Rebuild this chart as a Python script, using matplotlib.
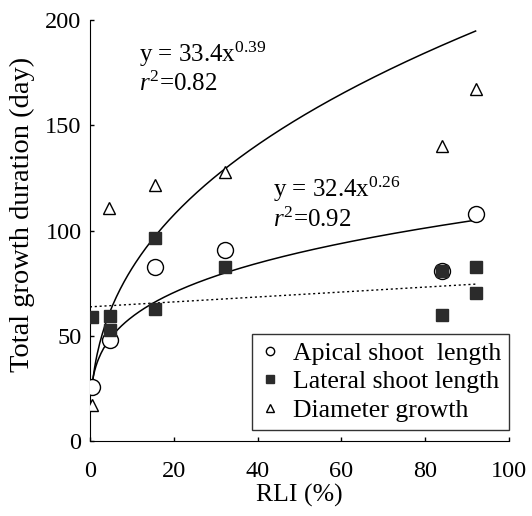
import numpy as np
import matplotlib
matplotlib.use("Agg")
import matplotlib.pyplot as plt
from matplotlib.lines import Line2D

plt.rcParams['font.family'] = ['Liberation Serif', 'DejaVu Serif']
plt.rcParams['mathtext.fontset'] = 'custom'
plt.rcParams['mathtext.rm'] = 'Liberation Serif'
plt.rcParams['mathtext.it'] = 'Liberation Serif:italic'

# Data
apical_x = [0.5, 4.7, 15.5, 32.2, 84, 92]
apical_y = [25.5, 48, 82.6, 90.7, 81, 108]

lateral_x = [0.5, 4.7, 4.9, 15.5, 15.5, 32.3, 84, 84, 92, 92]
lateral_y = [59, 59.5, 52.7, 96.4, 63, 82.6, 81, 60, 82.7, 70.5]

diam_x = [0.5, 4.6, 15.5, 32.2, 84, 92]
diam_y = [17, 110.6, 121.6, 128, 140.3, 167.5]

# fitted curves: y = a * x^b
fit1_a, fit1_b = 33.4, 0.39
fit2_a, fit2_b = 32.4, 0.26
fit_xmin, fit_xmax = 0.5, 92

# dotted linear trend end points
lin_x = [0, 92]
lin_y = [63.8, 74.6]

fig = plt.figure(figsize=(5.32, 5.16), dpi=100)
ax = fig.add_axes([0.169, 0.145, 0.788, 0.816])

xs = np.linspace(fit_xmin, fit_xmax, 300)
ax.plot(xs, fit1_a * xs ** fit1_b, color='black', lw=1.1)
ax.plot(xs, fit2_a * xs ** fit2_b, color='black', lw=1.1)
ax.plot(lin_x, lin_y, color='black', lw=1.0, ls=(0, (1.5, 2)))

ax.plot(apical_x, apical_y, 'o', ms=11.5, mfc='white', mec='black', mew=1.0, ls='none', zorder=3)
ax.plot(lateral_x, lateral_y, 's', ms=8.5, mfc='#2b2b2b', mec='#2b2b2b', ls='none', zorder=4)
ax.plot(diam_x, diam_y, '^', ms=9, mfc='white', mec='black', mew=1.0, ls='none', zorder=3)

ax.set_xlim(0, 100)
ax.set_ylim(0, 200)
ax.set_xticks([0, 20, 40, 60, 80, 100])
ax.set_yticks([0, 50, 100, 150, 200])
ax.tick_params(direction='in', length=3, width=1, labelsize=17.5)
ax.tick_params(axis='x', pad=14)
ax.tick_params(axis='y', pad=6)
ax.spines['top'].set_visible(False)
ax.spines['right'].set_visible(False)
ax.set_xlabel('RLI (%)', fontsize=18.5, labelpad=2)
ax.set_ylabel('Total growth duration (day)', fontsize=20.5)
ax.yaxis.set_label_coords(-0.131, 0.538)

ax.text(11.7, 180, 'y = 33.4x$^{0.39}$', fontsize=18)
ax.text(11.7, 166.5, r'$\mathit{r}^{2}$=0.82', fontsize=18)
ax.text(43.7, 116, 'y = 32.4x$^{0.26}$', fontsize=18)
ax.text(43.7, 101.7, r'$\mathit{r}^{2}$=0.92', fontsize=18)

handles = [
    Line2D([], [], marker='o', ls='none', ms=6, mfc='white', mec='black', mew=1.0),
    Line2D([], [], marker='s', ls='none', ms=5.5, mfc='#2b2b2b', mec='#2b2b2b'),
    Line2D([], [], marker='^', ls='none', ms=6, mfc='white', mec='black', mew=1.0),
]
labels = ['Apical shoot  length', 'Lateral shoot length', 'Diameter growth']
leg = ax.legend(handles, labels, loc='lower right', bbox_to_anchor=(1.0, 0.027),
                fontsize=18.5, frameon=True, fancybox=False, edgecolor='black',
                handlelength=0.8, handletextpad=0.5, borderpad=0.3,
                labelspacing=0.22, borderaxespad=0.0)
leg.get_frame().set_linewidth(1.0)

fig.savefig('out.png', dpi=100)
